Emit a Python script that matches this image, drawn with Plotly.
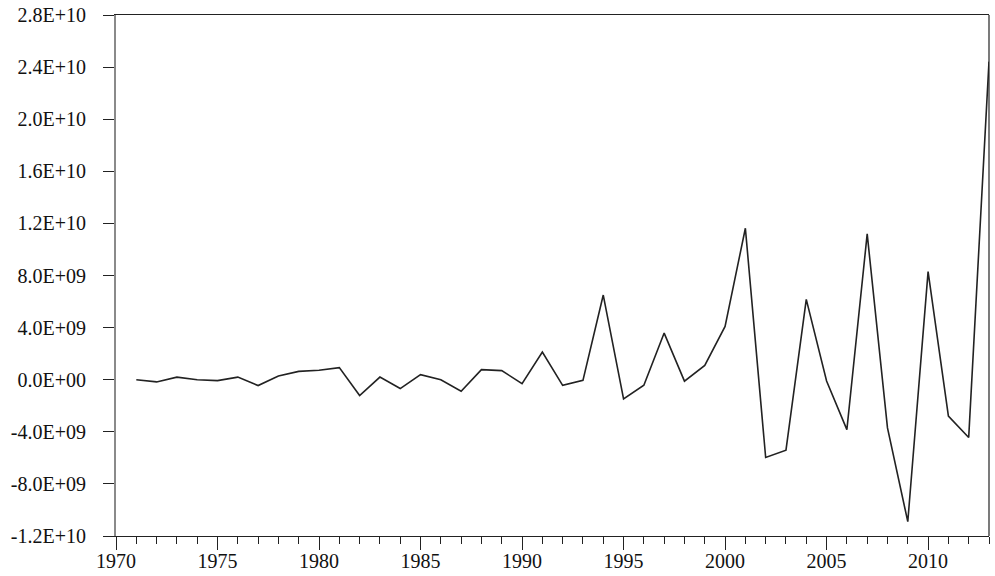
import plotly.graph_objects as go

years = list(range(1971, 2014))
values_e9 = [0.0, -0.17, 0.2, 0.0, -0.07, 0.2, -0.45, 0.28, 0.64, 0.72,
             0.93, -1.22, 0.2, -0.68, 0.39, 0.0, -0.89, 0.77, 0.7, -0.3,
             2.12, -0.43, -0.05, 6.5, -1.47, -0.42, 3.58, -0.11, 1.1, 4.09,
             11.63, -5.97, -5.41, 6.17, -0.1, -3.83, 11.19, -3.7, -10.9, 8.3,
             -2.8, -4.44, 24.42]
values = [v * 1e9 for v in values_e9]

ytick_vals = [-1.2e10 + i * 4e9 for i in range(11)]
ytick_text = [f"{v:.1E}" for v in ytick_vals]

fig = go.Figure()
fig.add_trace(go.Scatter(x=years, y=values, mode="lines",
                         line=dict(color="#222222", width=1.6),
                         showlegend=False, hoverinfo="skip"))

yfont = dict(family="Liberation Serif", size=20, color="#111111")
xfont = dict(family="Liberation Serif", size=20, color="#111111")

fig.update_layout(
    width=995, height=576,
    margin=dict(l=116, r=6, t=15, b=40, autoexpand=False),
    paper_bgcolor="white", plot_bgcolor="white",
    font=yfont,
    shapes=[dict(type="line", xref="paper", yref="paper", x0=1, x1=1, y0=0, y1=1,
                 line=dict(color="#222222", width=1.2))],
)
fig.update_xaxes(range=[1970, 2013], tickmode="linear", tick0=1970, dtick=5,
                 ticks="outside", ticklen=13, tickcolor="#222222", tickwidth=1.2,
                 ticklabelstandoff=-6,
                 showline=True, linecolor="#222222", linewidth=1.2, mirror=True,
                 showgrid=False, zeroline=False, tickfont=xfont, automargin=False,
                 minor=dict(dtick=1, tick0=1970, ticks="outside", ticklen=7,
                            tickcolor="#222222", tickwidth=1.2, showgrid=False))
fig.update_yaxes(range=[-1.2e10, 2.8e10], tickmode="array",
                 tickvals=ytick_vals, ticktext=ytick_text,
                 ticks="outside", ticklen=11, tickcolor="#222222", tickwidth=1.2,
                 ticklabelstandoff=13,
                 showline=True, linecolor="#8a8a8a", linewidth=2, mirror=False,
                 showgrid=False, zeroline=False, tickfont=yfont, automargin=False)

fig.write_html("out.html", config={"displayModeBar": False},
               post_script="document.body.style.margin='0';document.body.style.overflow='hidden';")
